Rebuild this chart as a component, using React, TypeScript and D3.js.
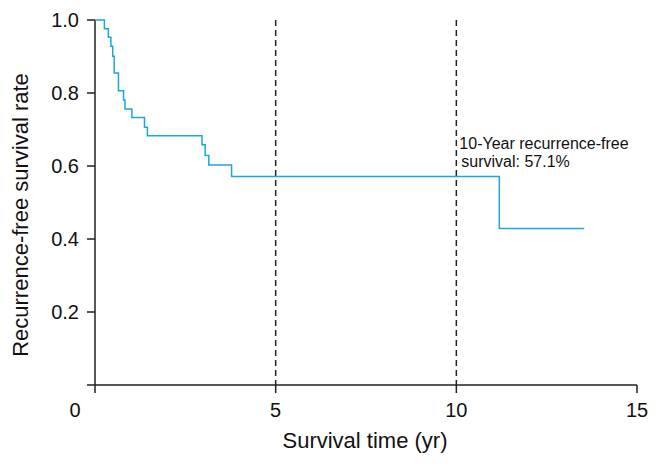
import React from "react";
import * as d3 from "d3";

const stepTimes = [0, 0.26, 0.37, 0.44, 0.49, 0.53, 0.65, 0.79, 0.83, 1.02, 1.37, 1.45, 2.96, 3.05, 3.15, 3.78, 11.19, 13.54];
const survival = [1.0, 0.976, 0.953, 0.928, 0.901, 0.855, 0.806, 0.781, 0.756, 0.733, 0.706, 0.683, 0.658, 0.629, 0.603, 0.571, 0.429, 0.429];
const xTicks = [5, 10, 15];
const yTicks = [0.2, 0.4, 0.6, 0.8, 1.0];
const refLines = [5, 10];
const annotation = ["10-Year recurrence-free", "survival: 57.1%"];

export default function App() {
  const W = 661, H = 469;
  const x = d3.scaleLinear().domain([0, 15]).range([95, 637]);
  const y = d3.scaleLinear().domain([0, 1]).range([385, 20]);
  const pts: [number, number][] = stepTimes.map((t, i) => [t, survival[i]]);
  const line = d3.line<[number, number]>().x(d => x(d[0])).y(d => y(d[1])).curve(d3.curveStepAfter);
  const font = "Liberation Sans, Arial, sans-serif";
  const axisColor = "#222";
  return (
    <svg width={W} height={H} style={{ position: "absolute", left: 0, top: 0 }} fontFamily={font}>
      <rect width={W} height={H} fill="#fff" />
      <line x1={x(0)} x2={x(0)} y1={y(1)} y2={y(0) + 8} stroke={axisColor} strokeWidth={1.5} />
      <line x1={x(0) - 8} x2={x(15)} y1={y(0)} y2={y(0)} stroke={axisColor} strokeWidth={1.5} />
      {yTicks.map(v => (
        <g key={v}>
          <line x1={x(0) - 8} x2={x(0)} y1={y(v)} y2={y(v)} stroke={axisColor} strokeWidth={1.5} />
          <text x={x(0) - 16} y={y(v)} dy="0.35em" textAnchor="end" fontSize={20} fill="#111">{v.toFixed(1)}</text>
        </g>
      ))}
      {xTicks.map(v => (
        <g key={v}>
          <line x1={x(v)} x2={x(v)} y1={y(0)} y2={y(0) + 8} stroke={axisColor} strokeWidth={1.5} />
          <text x={x(v)} y={y(0) + 25} dy="0.35em" textAnchor="middle" fontSize={20} fill="#111">{v}</text>
        </g>
      ))}
      <text x={x(0) - 20} y={y(0) + 25} dy="0.35em" textAnchor="middle" fontSize={20} fill="#111">0</text>
      {refLines.map(v => (
        <line key={v} x1={x(v)} x2={x(v)} y1={y(1)} y2={y(0)} stroke="#222" strokeWidth={1.5} strokeDasharray="6,4" />
      ))}
      <path d={line(pts) || ""} fill="none" stroke="#1aa7dc" strokeWidth={1.5} />
      <text x={x(10) + 3} y={143} dy="0.35em" fontSize={16} fill="#111">{annotation[0]}</text>
      <text x={x(10) + 5} y={161} dy="0.35em" fontSize={16} fill="#111">{annotation[1]}</text>
      <text x={365} y={440} dy="0.35em" textAnchor="middle" fontSize={22} fill="#111">Survival time (yr)</text>
      <text transform={`translate(20,215) rotate(-90)`} dy="0.35em" textAnchor="middle" fontSize={22} fill="#111">Recurrence-free survival rate</text>
    </svg>
  );
}
